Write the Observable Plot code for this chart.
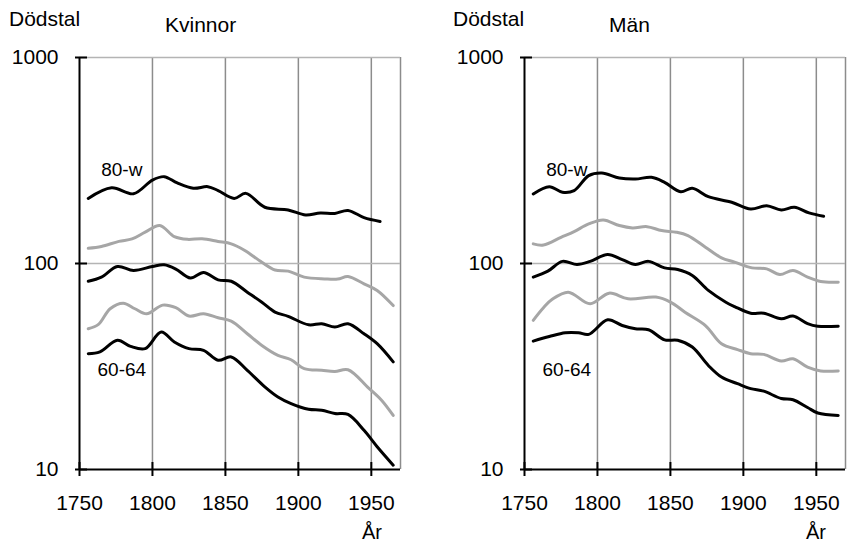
<!DOCTYPE html>
<html>
<head>
<meta charset="utf-8">
<script src="https://cdn.jsdelivr.net/npm/d3@7"></script>
<script src="https://cdn.jsdelivr.net/npm/@observablehq/plot@0.6"></script>
<style>
  html, body { margin: 0; padding: 0; background: white; }
  #wrap { position: relative; width: 848px; height: 543px; overflow: hidden; font-family: "Liberation Sans", Arial, sans-serif; }
  #wrap > .panel { position: absolute; top: 0; }
  #overlay { position: absolute; left: 0; top: 0; pointer-events: none; }
</style>
</head>
<body>
<div id="wrap">
  <div class="panel" id="left" style="left:0"></div>
  <div class="panel" id="right" style="left:424px"></div>
  <svg id="overlay" width="848" height="543" font-family="Liberation Sans, Arial, sans-serif" fill="black">
    <text x="9" y="26" font-size="21">Dödstal</text>
    <text x="165" y="32" font-size="21">Kvinnor</text>
    <text x="372" y="539" font-size="20" text-anchor="middle">År</text>
    <text x="453" y="26" font-size="21">Dödstal</text>
    <text x="609" y="32" font-size="21">Män</text>
    <text x="816" y="539" font-size="20" text-anchor="middle">År</text>
  </svg>
</div>
<script>
// ---- Data ----
const xTicks = [1750, 1800, 1850, 1900, 1950];
const yTicks = [10, 100, 1000];
const gridYears = [1800, 1850, 1900, 1950, 1970];
const gridValues = [100, 1000];
const seriesColors = ["black", "#a6a6a6", "black", "#a6a6a6", "black"];

// Kvinnor (women)
const kvinnor80w = [[1756,207],[1772,233],[1787,218],[1800,254],[1808,264],[1817,246],[1828,232],[1838,236],[1845,226],[1856,207],[1864,219],[1877,187.5],[1893,182],[1905,172],[1915,176],[1925,175],[1934,181],[1945,167],[1956,160]];
const kvinnor75 = [[1756,118.6],[1765,121],[1777,128],[1786,131.6],[1795,142],[1805,153],[1815,135],[1824,131],[1834,132],[1845,128],[1854,124.6],[1863,116],[1875,101.4],[1884,93],[1893,91.8],[1904,85.9],[1918,84.2],[1927,84],[1934,86.5],[1945,79.7],[1954,74],[1965,62.5]];
const kvinnor70 = [[1756,82],[1765,85.9],[1776,96.7],[1787,92.5],[1800,96.7],[1808,98.5],[1816,94],[1826,85],[1835,90.4],[1845,83.3],[1854,82],[1865,72.6],[1875,64.9],[1884,58.1],[1893,55.4],[1907,50.4],[1916,51],[1925,49.2],[1934,51],[1945,45.6],[1954,40.8],[1965,33.3]];
const kvinnor65 = [[1756,48.2],[1763,50.6],[1771,60.3],[1780,64.2],[1788,60.3],[1796,57],[1807,62.8],[1816,61],[1825,55.6],[1835,57],[1845,54.5],[1854,52.5],[1865,45.6],[1875,40],[1886,35.8],[1895,34.1],[1904,30.9],[1916,30.3],[1925,29.9],[1934,30.5],[1948,24.9],[1957,21.7],[1965,18.3]];
const kvinnor60 = [[1756,36.5],[1764,37.2],[1776,42.4],[1785,39.6],[1795,38.6],[1806,46.5],[1815,41.6],[1825,38.6],[1835,37.9],[1845,33.9],[1854,35.2],[1865,30.3],[1877,25.2],[1886,22.5],[1895,20.9],[1907,19.6],[1916,19.4],[1925,18.7],[1934,18.5],[1945,15.5],[1954,12.9],[1965,10.5]];

// Män (men)
const man80w = [[1756,217.7],[1767,236],[1776,221.8],[1784,225.8],[1794,267],[1803,275],[1815,260],[1826,257],[1837,262],[1846,247.7],[1857,223],[1865,231.8],[1876,211],[1892,198.3],[1905,184],[1916,190.8],[1926,182],[1935,187.4],[1945,176],[1955,169.5]];
const man75 = [[1756,124.5],[1763,123],[1775,134],[1784,142.9],[1794,155.6],[1804,162.8],[1815,152.8],[1824,148.9],[1834,151],[1844,144.5],[1854,141.9],[1862,136.7],[1874,120],[1885,106.5],[1894,101.5],[1906,95.2],[1916,94.2],[1925,88.4],[1934,92.5],[1944,85.9],[1953,81.8],[1965,81.2]];
const man70 = [[1756,85.9],[1766,91.8],[1776,102.4],[1786,98.9],[1795,102.4],[1807,110.6],[1817,104.5],[1826,98.9],[1835,102.4],[1846,95.2],[1855,93.5],[1865,87.5],[1876,74],[1888,64.9],[1894,61.8],[1905,57.4],[1914,57.4],[1926,53.9],[1934,55.6],[1944,51.1],[1951,49.6],[1965,49.6]];
const man65 = [[1756,53],[1763,61],[1769,67],[1780,72.6],[1795,63.7],[1808,71.8],[1821,67.4],[1840,68.7],[1850,65],[1860,58],[1874,50],[1885,40.8],[1896,38.2],[1905,36.5],[1914,36.2],[1926,33.6],[1934,34.5],[1944,31.4],[1953,30.1],[1965,30.1]];
const man60 = [[1756,42],[1767,44.2],[1778,46.1],[1787,46.1],[1794,45.3],[1807,53.3],[1817,50],[1826,48.2],[1835,47.7],[1846,42.6],[1855,42.4],[1865,39.3],[1876,32],[1885,28.1],[1896,26.1],[1905,24.7],[1914,24],[1926,22.1],[1934,21.8],[1944,20],[1951,18.8],[1965,18.3]];

// Series labels (year, value, text)
const seriesLabels = [
  {year: 1779, value: 286, text: "80-w"},
  {year: 1779, value: 30.3, text: "60-64"}
];

function panel(series, marginLeft, marginRight) {
  return Plot.plot({
    width: 424,
    height: 543,
    marginLeft,
    marginRight,
    marginTop: 57,
    marginBottom: 74,
    x: {domain: [1750, 1970], label: null},
    y: {type: "log", domain: [10, 1000], label: null},
    style: {fontFamily: "Liberation Sans, Arial, sans-serif", fontSize: "21px", color: "black", background: "white", overflow: "visible"},
    marks: [
      Plot.ruleX(gridYears, {stroke: "#8c8c8c", strokeWidth: 1.5}),
      Plot.ruleY(gridValues, {stroke: "#b4b4b4", strokeWidth: 1.5}),
      Plot.ruleX([1750], {stroke: "black", strokeWidth: 2}),
      Plot.ruleY([10], {stroke: "black", strokeWidth: 2}),
      Plot.axisY({ticks: yTicks, tickSize: 12, dx: 8, tickFormat: () => "", stroke: "black", strokeWidth: 2, strokeOpacity: 1, label: null}),
      Plot.axisY({ticks: yTicks, tickSize: 0, tickPadding: 21, tickFormat: d => String(d), fontSize: 21, label: null}),
      Plot.axisX({ticks: xTicks, tickSize: 14, dy: -7, tickFormat: () => "", stroke: "black", strokeWidth: 2, strokeOpacity: 1, label: null}),
      Plot.axisX({ticks: xTicks, tickSize: 0, tickPadding: 26, tickFormat: d => String(d), fontSize: 21, label: null}),
      ...series.map((s, i) => Plot.line(s, {x: d => d[0], y: d => d[1], stroke: seriesColors[i], strokeWidth: 3, curve: "catmull-rom"})),
      Plot.text(seriesLabels, {x: "year", y: "value", text: "text", fontSize: 19, fill: "black"})
    ]
  });
}

document.getElementById("left").appendChild(panel([kvinnor80w, kvinnor75, kvinnor70, kvinnor65, kvinnor60], 79, 24));
document.getElementById("right").appendChild(panel([man80w, man75, man70, man65, man60], 100, 3));
</script>
</body>
</html>
